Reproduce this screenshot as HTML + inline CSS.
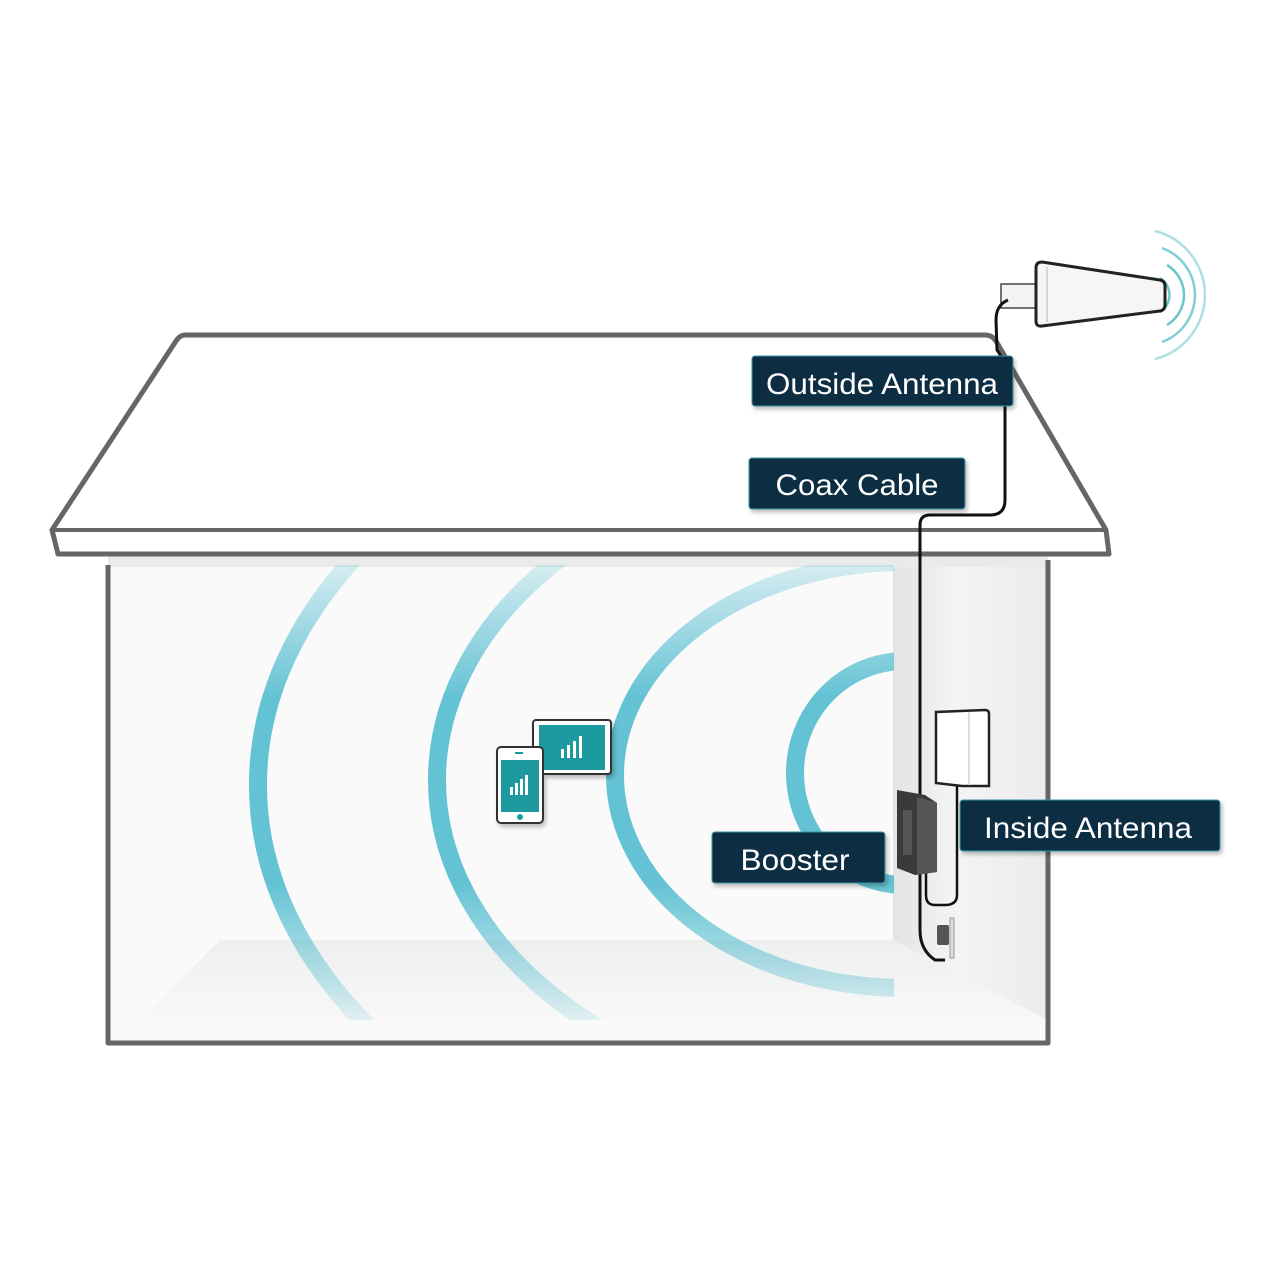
<!DOCTYPE html>
<html><head><style>
html,body{margin:0;padding:0;background:#fff;}
svg{display:block}
text{font-family:"Liberation Sans",sans-serif;fill:#fff;}
</style></head><body>
<svg width="1280" height="1280" viewBox="0 0 1280 1280" xmlns="http://www.w3.org/2000/svg">
<defs>
<clipPath id="inside"><rect x="110" y="565" width="784" height="455"/></clipPath>
<linearGradient id="fade" x1="0" y1="560" x2="0" y2="1020" gradientUnits="userSpaceOnUse">
<stop offset="0" stop-color="#5bbfd2" stop-opacity="0.2"/>
<stop offset="0.3" stop-color="#5bbfd2" stop-opacity="0.95"/>
<stop offset="0.7" stop-color="#5bbfd2" stop-opacity="0.95"/>
<stop offset="1" stop-color="#5bbfd2" stop-opacity="0.15"/>
</linearGradient>
<linearGradient id="wall" x1="893" y1="0" x2="1048" y2="0" gradientUnits="userSpaceOnUse">
<stop offset="0" stop-color="#e2e4e4"/><stop offset="0.4" stop-color="#f3f4f4"/><stop offset="1" stop-color="#ebecec"/>
</linearGradient>
<linearGradient id="floor" x1="0" y1="940" x2="0" y2="1020" gradientUnits="userSpaceOnUse">
<stop offset="0" stop-color="#eeefef"/><stop offset="1" stop-color="#f8f8f8"/>
</linearGradient>
<filter id="sh" x="-10%" y="-20%" width="120%" height="150%"><feDropShadow dx="2" dy="3" stdDeviation="2" flood-color="#000" flood-opacity="0.25"/></filter>
</defs>

<rect x="108" y="565" width="940" height="478" fill="#fafafa"/>
<polygon points="220,940 893,940 1048,1010 1048,1020 140,1020" fill="url(#floor)"/>
<polygon points="893,565 1048,565 1048,1020 893,940" fill="url(#wall)"/>
<rect x="108" y="555" width="940" height="12" fill="#e9eaea"/>

<g clip-path="url(#inside)" fill="none" stroke="url(#fade)" stroke-width="18">
<ellipse cx="905" cy="773" rx="110" ry="112"/>
<ellipse cx="905" cy="775" rx="290" ry="213"/>
<ellipse cx="905" cy="780" rx="468" ry="328"/>
<ellipse cx="905" cy="785" rx="647" ry="432"/>
</g>

<path d="M108,565 V1043 H1048 V560" fill="none" stroke="#666" stroke-width="5" stroke-linejoin="round"/>

<path d="M185,335 H985 Q992,335 996,341 L1106,530 L1109,554 H58 L52,530 L176,341 Q180,335 185,335 Z" fill="#fff" stroke="#666" stroke-width="5" stroke-linejoin="round"/>
<line x1="52" y1="530" x2="1106" y2="530" stroke="#666" stroke-width="4"/>

<g filter="url(#sh)">
<rect x="533" y="720" width="78" height="54" rx="3" fill="#fff" stroke="#333" stroke-width="2"/>
<rect x="539" y="725" width="66" height="45" fill="#1b9aa0"/>
<rect x="497" y="747" width="46" height="76" rx="4" fill="#fff" stroke="#333" stroke-width="2"/>
<rect x="501" y="760" width="38" height="52" fill="#1b9aa0"/>
</g>
<g fill="#fff">
<rect x="561" y="749" width="3" height="9"/><rect x="567" y="745" width="3" height="13"/><rect x="573" y="741" width="3" height="17"/><rect x="579" y="736" width="3" height="22"/>
<rect x="510" y="787" width="3" height="8"/><rect x="515" y="783" width="3" height="12"/><rect x="520" y="779" width="3" height="16"/><rect x="525" y="775" width="3" height="20"/>
<rect x="515" y="752" width="8" height="2" fill="#1b9aa0"/>
</g>
<circle cx="520" cy="817" r="3" fill="#1b9aa0"/>

<g fill="none" stroke="#6cc6cc" stroke-width="2.5" transform="translate(1150,295)">
<path d="M10,-17 A20,20 0 0 1 10,17"/>
<path d="M17,-30 A35,35 0 0 1 17,30"/>
<path d="M12,-47 A50,50 0 0 1 12,47" stroke-opacity="0.85"/>
<path d="M5,-64 A66,66 0 0 1 5,64" stroke-opacity="0.55"/>
</g>
<rect x="1001" y="284" width="36" height="24" fill="#f3f3f3" stroke="#444" stroke-width="1.5"/>
<path d="M1042,262 L1160,280 Q1165,281 1165,286 L1165,305 Q1165,310 1160,311 L1042,326 Q1036,327 1036,321 L1036,268 Q1036,262 1042,262 Z" fill="#f6f6f6" stroke="#222" stroke-width="3"/>
<line x1="1047" y1="267" x2="1047" y2="322" stroke="#ccc" stroke-width="1.5"/>

<path d="M1008,300 Q996,305 996,320 L997,350 Q1005,360 1005,380 L1005,500 Q1005,515 990,515 L930,515 Q920,515 920,525 L920,930 Q920,950 935,960 L945,960" fill="none" stroke="#111" stroke-width="3"/>
<path d="M957,786 L957,895 Q957,905 945,905 L935,905 Q926,905 926,895 L926,870" fill="none" stroke="#111" stroke-width="2.5"/>

<path d="M936,712 L985,710 Q989,710 989,714 L989,786 L962,786 L936,783 Z" fill="#fff" stroke="#222" stroke-width="2.5"/>
<line x1="969" y1="712" x2="969" y2="785" stroke="#ddd" stroke-width="2"/>

<polygon points="897,790 925,795 937,803 937,872 915,875 897,868" fill="#3a3a3a"/>
<polygon points="917,797 937,803 937,872 917,875" fill="#555"/>
<rect x="903" y="810" width="9" height="45" fill="#555"/>
<rect x="937" y="925" width="12" height="20" rx="2" fill="#555"/>
<rect x="950" y="918" width="4" height="40" fill="#ddd" stroke="#999" stroke-width="1"/>

<g filter="url(#sh)">
<rect x="752" y="356" width="261" height="50" rx="3" fill="#0d2d42" stroke="#3a9aa8" stroke-width="1"/>
<rect x="749" y="458" width="216" height="51" rx="3" fill="#0d2d42" stroke="#3a9aa8" stroke-width="1"/>
<rect x="712" y="832" width="173" height="51" rx="3" fill="#0d2d42" stroke="#3a9aa8" stroke-width="1"/>
<rect x="960" y="800" width="260" height="51" rx="3" fill="#0d2d42" stroke="#3a9aa8" stroke-width="1"/>
</g>
<text x="882" y="394" font-size="30" text-anchor="middle" textLength="232" lengthAdjust="spacingAndGlyphs">Outside Antenna</text>
<text x="857" y="495" font-size="30" text-anchor="middle" textLength="163" lengthAdjust="spacingAndGlyphs">Coax Cable</text>
<text x="795" y="870" font-size="30" text-anchor="middle" textLength="109" lengthAdjust="spacingAndGlyphs">Booster</text>
<text x="1088" y="838" font-size="30" text-anchor="middle" textLength="208" lengthAdjust="spacingAndGlyphs">Inside Antenna</text>
</svg>
</body></html>
